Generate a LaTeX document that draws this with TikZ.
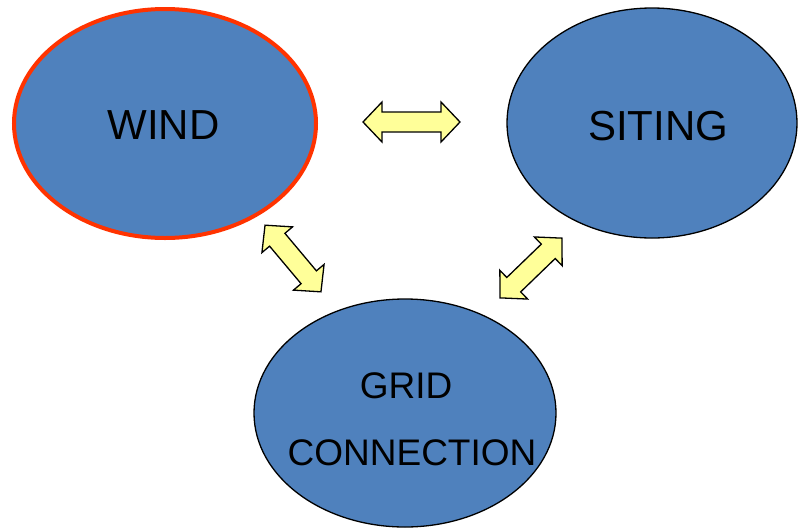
\documentclass[tikz,border=0pt]{standalone}
\usepackage{fontspec}
\setmainfont{Liberation Sans}
\usetikzlibrary{shapes.geometric}
\definecolor{ellblue}{RGB}{79,129,189}
\definecolor{windred}{RGB}{255,51,0}
\definecolor{arrowyellow}{RGB}{255,255,153}
\tikzset{
  bubble/.style={ellipse, fill=ellblue, draw=black, line width=1.3pt, inner sep=0pt},
  label text/.style={font=\fontsize{37}{40}\selectfont, text=black, inner sep=0pt, anchor=base},
  big text/.style={label text, font=\fontsize{42}{45}\selectfont},
  arrowface/.style={fill=arrowyellow, draw=black, line width=1.3pt, line join=miter},
  pics/dblarrow/.style={code={
    \draw[arrowface] (-#1/2,0) -- (-#1/2+19,20) -- (-#1/2+19,10) -- (#1/2-19,10) -- (#1/2-19,20)
      -- (#1/2,0) -- (#1/2-19,-20) -- (#1/2-19,-10) -- (-#1/2+19,-10) -- (-#1/2+19,-20) -- cycle;
  }}
}
\begin{document}
\begin{tikzpicture}[x=1pt,y=1pt]
\useasboundingbox (0,0) rectangle (798,-528);
\node[bubble, draw=windred, line width=4pt, minimum width=302pt, minimum height=229pt] (wind) at (165,-123.5) {};
\node[bubble, minimum width=290pt, minimum height=230pt] (siting) at (652,-123) {};
\node[bubble, minimum width=302pt, minimum height=228pt] (grid) at (405,-413) {};
\node[big text] (windtxt) at (163.5,-139) {WIND};
\node[big text] (sitingtxt) at (658,-140) {SITING};
\node[label text] (gridtxt) at (406,-398) {GRID};
\node[label text] (conntxt) at (412,-465) {CONNECTION};
\pic at (411.5,-122) {dblarrow=97};
\pic[rotate=-50] at (293,-258.5) {dblarrow=87};
\pic[rotate=44] at (531,-268) {dblarrow=86};
\end{tikzpicture}
\end{document}
